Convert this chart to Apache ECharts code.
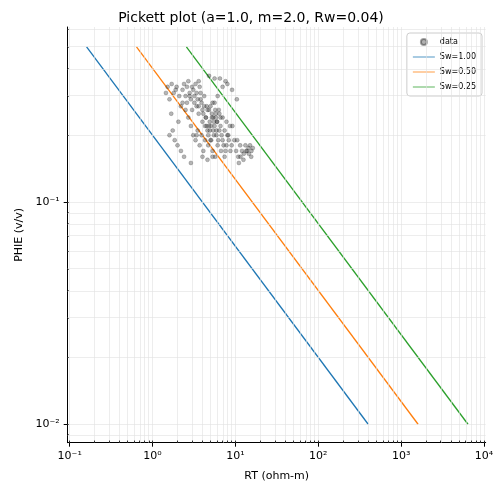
<!DOCTYPE html>
<html><head><meta charset="utf-8">
<script src="https://cdn.jsdelivr.net/npm/echarts@6/dist/echarts.min.js"></script>
<style>html,body{margin:0;padding:0;background:#fff}#c{width:502px;height:495px}</style>
</head><body><div id="c"></div>
<script>
const rtData = [1.45,1.52,1.6,1.68,1.75,1.85,1.95,2.05,2.2,2.3,2.4,2.5,2.6,2.7,2.8,2.9,3.0,3.1,3.2,3.3,3.4,3.5,3.6,3.7,3.8,3.9,4.0,4.1,4.2,4.3,4.4,4.5,4.6,4.7,4.8,4.9,5.0,5.1,5.2,5.3,5.4,5.5,5.6,5.7,5.8,5.9,6.0,6.2,6.4,6.6,6.8,7.0,7.2,7.4,7.6,7.8,8.0,8.3,8.6,9.0,
 2.6,2.8,3.0,3.2,3.4,3.6,3.8,4.0,4.2,4.4,4.6,4.8,5.0,5.2,5.4,5.6,5.8,6.0,6.3,6.6,
 1.7,1.9,2.1,2.3,2.5,2.7,2.9,3.1,3.3,3.5,3.7,3.9,4.1,4.3,4.5,4.7,4.9,5.1,5.3,5.5,5.7,5.9,6.1,6.4,6.7,7.0,7.4,7.8,8.2,8.7,
 9.2,9.7,10.2,10.8,11.4,12.0,12.6,13.2,13.8,14.4,15.0,15.6,16.2,10.5,11.5,12.5,13.5,14.5,15.5,11.0,
 1.6,2.0,2.4,2.9,3.4,4.0,4.6,5.3,6.1,7.0,8.0,9.1,10.4,3.6,4.8,5.6,6.5,7.6,2.2,1.8];
const phieData = [0.31,0.33,0.29,0.25,0.21,0.19,0.33,0.23,0.27,0.32,0.34,0.30,0.33,0.35,0.31,0.29,0.33,0.32,0.30,0.34,0.31,0.29,0.27,0.33,0.31,0.28,0.26,0.25,0.30,0.22,0.24,0.27,0.21,0.20,0.26,0.23,0.19,0.22,0.25,0.28,0.24,0.20,0.22,0.26,0.24,0.21,0.23,0.19,0.25,0.22,0.20,0.24,0.18,0.21,0.17,0.23,0.20,0.19,0.22,0.18,
 0.28,0.30,0.26,0.28,0.27,0.25,0.29,0.23,0.27,0.24,0.26,0.22,0.27,0.24,0.21,0.28,0.25,0.23,0.26,0.24,
 0.34,0.32,0.30,0.28,0.26,0.24,0.22,0.20,0.19,0.21,0.18,0.20,0.17,0.19,0.22,0.18,0.21,0.19,0.17,0.23,0.16,0.20,0.18,0.21,0.17,0.19,0.16,0.18,0.20,0.17,
 0.22,0.19,0.17,0.16,0.18,0.17,0.165,0.18,0.17,0.175,0.18,0.17,0.175,0.19,0.16,0.155,0.17,0.165,0.16,0.15,
 0.20,0.18,0.16,0.15,0.20,0.16,0.155,0.16,0.30,0.33,0.34,0.32,0.29,0.35,0.37,0.36,0.36,0.35,0.17,0.31];
const sw100 = [[0.16,0.5],[400,0.01]];
const sw050 = [[0.64,0.5],[1600,0.01]];
const sw025 = [[2.56,0.5],[6400,0.01]];
const xTicks = [-1,0,1,2,3,4];
const yTicks = [-2,-1];
const sup = {'-':'⁻','0':'⁰','1':'¹','2':'²','3':'³','4':'⁴'};
const pow = v => '10' + String(v).split('').map(c=>sup[c]).join('');
const L = v => Math.log10(v);
const minorX = [], minorY = [];
for (let d=-2; d<=4; d++) for (let k=1;k<=9;k++){ const v=d+Math.log10(k); if(v>-1.024&&v<4.02) minorX.push(v); }
for (let d=-3; d<=0; d++) for (let k=1;k<=9;k++){ const v=d+Math.log10(k); if(v>-2.083&&v<-0.212) minorY.push(v); }
const line = (name,pts,color)=>({name,type:'line',data:pts.map(p=>[L(p[0]),L(p[1])]),symbol:'none',lineStyle:{color,width:1.3},itemStyle:{color},z:3});
const chart = echarts.init(document.getElementById('c'));
const gridLines = (arr,isX)=>({type:'line',silent:true,symbol:'none',data:[],markLine:{silent:true,symbol:'none',label:{show:false},lineStyle:{color:'#e0e0e0',width:0.6,type:'solid'},data:arr.map(v=>isX?{xAxis:v}:{yAxis:v})},z:1});
const lineIcon = 'path://M0,0H40V1.4H0Z';
chart.setOption({
  animation:false,
  title:{text:'Pickett plot (a=1.0, m=2.0, Rw=0.04)',left:'center',top:6,textStyle:{fontFamily:'DejaVu Sans',fontSize:14,fontWeight:'normal',color:'#000'}},
  legend:{right:20,top:33,orient:'vertical',itemWidth:22,itemHeight:6,itemGap:7,textStyle:{fontFamily:'DejaVu Sans',fontSize:8,color:'#000'},borderColor:'#ccc',borderWidth:1,borderRadius:3,padding:[5,6],
    data:[{name:'data',icon:'circle',itemStyle:{color:'rgba(60,60,60,0.5)'}},{name:'Sw=1.00',icon:lineIcon},{name:'Sw=0.50',icon:lineIcon},{name:'Sw=0.25',icon:lineIcon}]},
  grid:{left:67.7,right:16.3,top:27,bottom:52.3},
  xAxis:{type:'value',min:-1.024,max:4.02,interval:1,name:'RT (ohm-m)',nameLocation:'middle',nameGap:28,nameTextStyle:{fontFamily:'DejaVu Sans',fontSize:11,color:'#000'},
    axisLine:{onZero:false,lineStyle:{color:'#000'}},splitLine:{show:false},
    axisLabel:{customValues:xTicks,formatter:pow,fontFamily:'DejaVu Sans',fontSize:11,color:'#000',margin:8},
    axisTick:{show:true,customValues:xTicks,length:4,lineStyle:{color:'#000'}}},
  yAxis:{type:'value',min:-2.083,max:-0.212,name:'PHIE (v/v)',nameLocation:'middle',nameGap:42,nameTextStyle:{fontFamily:'DejaVu Sans',fontSize:11,color:'#000'},
    axisLine:{onZero:false,lineStyle:{color:'#000'}},splitLine:{show:false},
    axisLabel:{customValues:yTicks,formatter:pow,fontFamily:'DejaVu Sans',fontSize:11,color:'#000'},
    axisTick:{show:true,customValues:yTicks,length:4,lineStyle:{color:'#000'}}},
  series:[
    gridLines(minorX,true), gridLines(minorY,false),
    {type:'line',silent:true,symbol:'none',data:[],markLine:{silent:true,symbol:'none',label:{show:false},lineStyle:{color:'#000',width:0.8,type:'solid'},
      data:[].concat(minorX.map(v=>[{coord:[v,-2.083]},{coord:[v,-2.083+0.0095]}]), minorY.map(v=>[{coord:[-1.024,v]},{coord:[-1.024+0.012,v]}]))},z:4},
    {name:'data',type:'scatter',data:rtData.map((r,i)=>[L(r),L(phieData[i])]),symbolSize:4,itemStyle:{color:'rgba(50,50,50,0.45)',borderColor:'rgba(0,0,0,0.45)',borderWidth:0.5},z:5},
    line('Sw=1.00',sw100,'#1f77b4'),
    line('Sw=0.50',sw050,'#ff7f0e'),
    line('Sw=0.25',sw025,'#2ca02c')
  ]
});
</script></body></html>
